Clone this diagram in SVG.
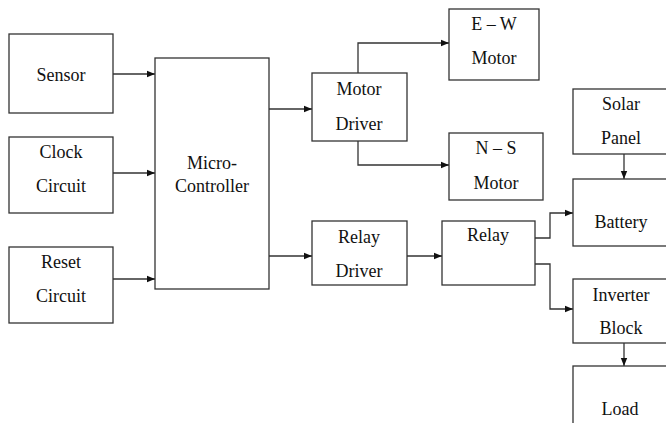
<svg xmlns="http://www.w3.org/2000/svg" width="666" height="423" viewBox="0 0 666 423">
<defs>
<marker id="ah" markerUnits="userSpaceOnUse" markerWidth="8" markerHeight="8" viewBox="0 0 8 8" refX="8" refY="4" orient="auto">
<path d="M0,0.8 L8,4 L0,7.2 Z" fill="#111"/>
</marker>
<style>
rect{fill:#fff;stroke:#333;stroke-width:1.3}
text{font-size:18px;fill:#111;text-anchor:middle}
.c{fill:none;stroke:#333;stroke-width:1.3;marker-end:url(#ah)}
</style>
</defs>
<rect x="0" y="0" width="666" height="423" style="fill:#fff;stroke:none"/>
<g id="connectors">
<path class="c" d="M113,74 H155"/>
<path class="c" d="M113,173 H155"/>
<path class="c" d="M113,279 H155"/>
<path class="c" d="M269,109 H312"/>
<path class="c" d="M269,256 H312"/>
<path class="c" d="M358,73 V43 H449"/>
<path class="c" d="M358,141 V165 H449"/>
<path class="c" d="M407,256 H442"/>
<path class="c" d="M535,238 H550 V213 H573"/>
<path class="c" d="M535,264 H550 V309 H573"/>
<path class="c" d="M624,154 V179"/>
<path class="c" d="M624,343 V366"/>
</g>
<g font-family="Liberation Serif, DejaVu Serif, serif">
<g id="sensor"><rect x="9" y="34" width="104" height="79"/><text x="61" y="81">Sensor</text></g>
<g id="clock"><rect x="9" y="137" width="104" height="76"/><text x="61" y="158">Clock</text><text x="61" y="192">Circuit</text></g>
<g id="reset"><rect x="9" y="247" width="104" height="76"/><text x="61" y="268">Reset</text><text x="61" y="302">Circuit</text></g>
<g id="mcu"><rect x="155" y="58" width="114" height="231"/><text x="212" y="169">Micro-</text><text x="212" y="192">Controller</text></g>
<g id="motor-driver"><rect x="312" y="73" width="95" height="68"/><text x="359" y="95">Motor</text><text x="359" y="130">Driver</text></g>
<g id="ew-motor"><rect x="449" y="9" width="90" height="71"/><text x="494" y="30">E – W</text><text x="494" y="64">Motor</text></g>
<g id="ns-motor"><rect x="449" y="133" width="94" height="67"/><text x="496" y="154">N – S</text><text x="496" y="189">Motor</text></g>
<g id="relay-driver"><rect x="312" y="221" width="95" height="64"/><text x="359" y="243">Relay</text><text x="359" y="277">Driver</text></g>
<g id="relay"><rect x="442" y="221" width="93" height="64"/><text x="488" y="241">Relay</text></g>
<g id="solar"><rect x="573" y="89" width="110" height="65"/><text x="621" y="110">Solar</text><text x="621" y="144">Panel</text></g>
<g id="battery"><rect x="573" y="179" width="110" height="67"/><text x="621" y="228">Battery</text></g>
<g id="inverter"><rect x="573" y="279" width="110" height="64"/><text x="621" y="301">Inverter</text><text x="621" y="334">Block</text></g>
<g id="load"><rect x="573" y="366" width="110" height="80"/><text x="620" y="415">Load</text></g>
</g>
</svg>
